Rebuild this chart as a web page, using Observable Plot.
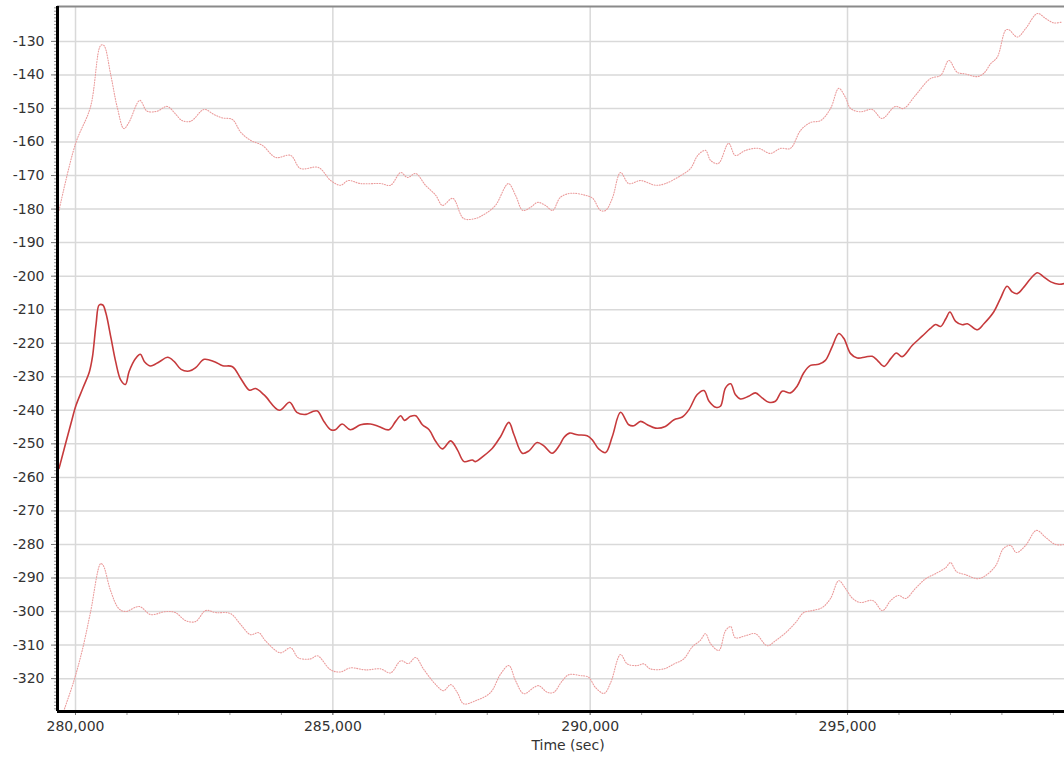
<!DOCTYPE html>
<html>
<head>
<meta charset="utf-8">
<script src="https://cdn.jsdelivr.net/npm/d3@7"></script>
<script src="https://cdn.jsdelivr.net/npm/@observablehq/plot@0.6"></script>
<style>
  html, body { margin: 0; padding: 0; background: #fff; }
  #chart svg { display: block; }
</style>
</head>
<body>
<div id="chart"></div>
<script>
// ---- Data ----
const xLabel = "Time (sec)";
const xTicks = [280000, 285000, 290000, 295000];
const yTicks = [-320, -310, -300, -290, -280, -270, -260, -250, -240, -230, -220, -210, -200, -190, -180, -170, -160, -150, -140, -130];
const xDomain = [279650, 299216];
const yDomain = [-329.8, -119.6];

// middle (solid) series
const midT = [279680, 279910, 280010, 280140, 280270, 280330, 280400, 280460, 280530, 280590, 280690, 280780, 280880, 280970, 281040, 281170, 281260, 281340, 281460, 281630, 281790, 281920, 282050, 282210, 282340, 282500, 282700, 282860, 283050, 283210, 283380, 283500, 283670, 283960, 284160, 284300, 284480, 284600, 284700, 284830, 284960, 285050, 285180, 285340, 285540, 285730, 285890, 286090, 286220, 286320, 286390, 286510, 286610, 286740, 286870, 287000, 287130, 287290, 287420, 287550, 287710, 287770, 287930, 288100, 288260, 288420, 288520, 288680, 288810, 288970, 289100, 289260, 289400, 289490, 289600, 289750, 289940, 290040, 290170, 290300, 290430, 290590, 290750, 290850, 290980, 291110, 291270, 291460, 291630, 291790, 291920, 292080, 292210, 292310, 292440, 292530, 292630, 292730, 292820, 292920, 293080, 293210, 293340, 293470, 293600, 293730, 293890, 294020, 294150, 294280, 294440, 294570, 294700, 294830, 294930, 295060, 295190, 295350, 295480, 295580, 295710, 295840, 295950, 296060, 296260, 296450, 296610, 296710, 296810, 296910, 296990, 297100, 297230, 297330, 297520, 297650, 297840, 297970, 298100, 298200, 298300, 298430, 298560, 298690, 298810, 298950, 299110, 299220];
const midV = [-257.3, -244, -238.5, -233.5, -228.5, -224, -214.2, -208.6, -208.6, -211, -218.5, -225.5, -231, -232.3, -228.5, -224.5, -223.3, -225.5, -226.8, -225.5, -224.2, -225.5, -227.8, -228.3, -227.2, -224.8, -225.5, -226.7, -227, -230.5, -234, -233.5, -235.5, -240, -237.6, -240.6, -241.2, -240.4, -240.2, -243.4, -245.8, -245.8, -244.1, -245.8, -244.3, -244.1, -244.8, -245.8, -243.3, -241.6, -243, -241.8, -241.6, -244.3, -245.8, -249.3, -251.5, -249.1, -251.8, -255.3, -254.8, -255.3, -253.6, -251.3, -247.8, -243.6, -247.3, -252.8, -252.1, -249.6, -250.6, -252.8, -250.5, -248.1, -246.8, -247.3, -247.6, -248.8, -251.6, -252.6, -247.8, -240.6, -244.3, -244.6, -243.3, -244.3, -245.3, -244.8, -242.8, -242, -239.8, -235.3, -234.1, -237.3, -239.1, -238.8, -233.3, -232.1, -235.3, -236.6, -235.8, -234.8, -236.3, -237.6, -237.3, -234.3, -234.8, -232.8, -228.8, -226.6, -226.3, -225.1, -221.1, -217.1, -218.6, -223.1, -224.4, -224.1, -223.9, -225.1, -226.9, -224.6, -222.9, -224, -220.6, -217.9, -215.6, -214.4, -215, -212.7, -210.7, -213.5, -214.5, -214.2, -216, -214.2, -210.7, -206.7, -203, -204.7, -205.2, -203.2, -200.7, -199, -200.2, -201.7, -202.4, -202.2];

// upper (dotted) series
const upT = [279680, 280000, 280290, 280490, 280550, 280680, 280810, 280940, 281040, 281250, 281390, 281590, 281780, 281940, 282070, 282240, 282500, 282690, 282850, 283050, 283210, 283400, 283630, 283890, 284180, 284370, 284720, 284960, 285150, 285300, 285540, 285930, 286120, 286320, 286450, 286610, 286800, 287000, 287130, 287330, 287540, 287770, 287970, 288160, 288410, 288550, 288690, 288840, 288980, 289130, 289270, 289420, 289620, 289910, 290050, 290200, 290300, 290430, 290590, 290750, 290980, 291270, 291460, 291760, 291950, 292090, 292240, 292340, 292490, 292690, 292820, 293020, 293270, 293500, 293700, 293890, 294090, 294280, 294480, 294670, 294830, 294960, 295060, 295250, 295480, 295670, 295930, 296090, 296320, 296610, 296810, 296970, 297130, 297290, 297520, 297650, 297780, 297910, 298070, 298130, 298300, 298460, 298690, 298850, 299010, 299170];
const upV = [-180.4, -160.5, -149.6, -131.2, -131.2, -139.6, -149.6, -156, -154.1, -147.6, -150.8, -150.8, -149.4, -151.6, -153.6, -153.8, -150.3, -151.8, -152.8, -153.3, -157.1, -159.5, -161, -164.6, -164, -167.9, -167.6, -171.5, -172.9, -171.5, -172.4, -172.4, -172.9, -169.1, -170.6, -169.4, -172.9, -175.9, -178.9, -176.8, -182.8, -182.8, -181.3, -178.9, -172.4, -175.9, -180.4, -179.5, -178, -178.9, -180.4, -176.5, -175.3, -175.9, -176.8, -180.4, -180.4, -176.8, -169.1, -172.4, -171.5, -172.9, -172.4, -170, -167.9, -164, -162.5, -165.5, -166.4, -160.4, -164, -162.5, -161.9, -163.4, -161.9, -161.9, -156.5, -154.2, -153.6, -150, -144, -146.7, -150, -151, -150.3, -153, -149.4, -150, -146.1, -141.1, -140.1, -135.7, -139.2, -139.7, -140.5, -139.5, -136.7, -134.7, -126.7, -126.5, -128.7, -126.2, -121.7, -123.2, -124.5, -124.2];

// lower (dotted) series
const loT = [279770, 279970, 280130, 280290, 280490, 280540, 280680, 280840, 280970, 281240, 281460, 281750, 281940, 282140, 282330, 282530, 282720, 283010, 283210, 283400, 283560, 283690, 283980, 284180, 284330, 284570, 284700, 284960, 285150, 285340, 285640, 285930, 286120, 286320, 286470, 286610, 286760, 287000, 287150, 287290, 287420, 287540, 287770, 288060, 288260, 288420, 288550, 288710, 288910, 289000, 289170, 289290, 289460, 289590, 289810, 289970, 290100, 290270, 290400, 290590, 290720, 290910, 291040, 291170, 291430, 291630, 291820, 291980, 292140, 292240, 292340, 292500, 292630, 292730, 292820, 293020, 293210, 293440, 293600, 293800, 293990, 294150, 294320, 294510, 294670, 294830, 294960, 295100, 295250, 295490, 295680, 295840, 295990, 296130, 296320, 296520, 296710, 296910, 297000, 297120, 297290, 297530, 297680, 297880, 298030, 298170, 298280, 298460, 298670, 298850, 299040, 299220];
const loV = [-329.7, -320.6, -311.6, -300.3, -285.7, -286.3, -293.7, -299.1, -300, -298.5, -300.9, -300, -300.3, -302.7, -303, -299.7, -300.3, -300.6, -303.9, -306.9, -306.3, -308.7, -312.3, -310.8, -313.8, -314.1, -313.2, -317.4, -318, -316.8, -317.4, -317.1, -318.3, -314.7, -315.5, -313.7, -317.1, -321.8, -323.6, -321.8, -324.2, -327.5, -326.6, -324.2, -318.6, -316.1, -320.6, -324.5, -322.6, -322.1, -324.1, -324.1, -320.6, -318.8, -319.1, -319.6, -322.6, -324.4, -321.1, -312.8, -315.6, -316.1, -315.6, -317.1, -317.1, -315.6, -314.1, -310.6, -308.6, -306.6, -309.6, -311.6, -305.7, -304.5, -307.8, -307.2, -306.6, -310.2, -308.7, -306.3, -303.3, -300.3, -299.7, -298.8, -296.1, -290.8, -293.1, -296.1, -297.3, -296.7, -299.7, -296.7, -295.2, -296.1, -293.1, -290.2, -288.7, -286.9, -285.4, -288.1, -289, -290.2, -289.3, -286.3, -281.2, -280.3, -282.4, -280.3, -275.8, -277.9, -280, -280];

// ---- Build tables ----
const mid = midT.map((t, i) => ({t, v: midV[i]}));
const up = upT.map((t, i) => ({t, v: upV[i]}));
const lo = loT.map((t, i) => ({t, v: loV[i]}));
const xMinor = d3.range(280000, 299001, 1000);
const yMinor = d3.range(-329, -119, 1);

const fmtX = d3.format(",");
const fmtY = d => String(d);

const chart = Plot.plot({
  width: 1064,
  height: 762,
  marginLeft: 57,
  marginRight: 0,
  marginTop: 6,
  marginBottom: 51,
  style: {fontFamily: "'DejaVu Sans', Verdana, sans-serif", fontSize: "14px", color: "#333", background: "#fff"},
  x: {domain: xDomain, axis: null},
  y: {domain: yDomain, axis: null},
  marks: [
    Plot.gridY(yTicks, {stroke: "#d9d9d9", strokeOpacity: 1, strokeWidth: 1.5}),
    Plot.gridX(xTicks, {stroke: "#d9d9d9", strokeOpacity: 1, strokeWidth: 1.5}),
    Plot.ruleY([yDomain[1]], {stroke: "#8a8a8a", strokeWidth: 2}),
    Plot.line(up, {x: "t", y: "v", stroke: "#eb9c9c", strokeWidth: 1.1, strokeDasharray: "1,1.6", curve: "catmull-rom", clip: true}),
    Plot.line(lo, {x: "t", y: "v", stroke: "#eb9c9c", strokeWidth: 1.1, strokeDasharray: "1,1.6", curve: "catmull-rom", clip: true}),
    Plot.line(mid, {x: "t", y: "v", stroke: "#c63a3c", strokeWidth: 1.6, curve: "catmull-rom", clip: true}),
    // minor ticks
    Plot.axisY({ticks: yMinor, tickSize: 3, tickFormat: () => "", stroke: "#999", label: null}),
    Plot.axisX({ticks: xMinor, tickSize: 4, tickFormat: () => "", stroke: "#999", label: null}),
    // major ticks + labels
    Plot.axisY({ticks: yTicks, tickSize: 6, tickPadding: 7, tickFormat: fmtY, stroke: "#777", fill: "#333", fontSize: 14, label: null}),
    Plot.axisX({ticks: xTicks, tickSize: 4, tickPadding: 6, tickFormat: fmtX, stroke: "#777", fill: "#333", fontSize: 14, label: null}),
    // axis lines
    Plot.ruleX([xDomain[0]], {stroke: "#000", strokeWidth: 3}),
    Plot.ruleY([yDomain[0]], {stroke: "#000", strokeWidth: 3}),
    Plot.text([xLabel], {frameAnchor: "bottom", dy: 38, dx: 7, fill: "#333", fontSize: 14})
  ]
});
document.getElementById("chart").appendChild(chart);
</script>
</body>
</html>
